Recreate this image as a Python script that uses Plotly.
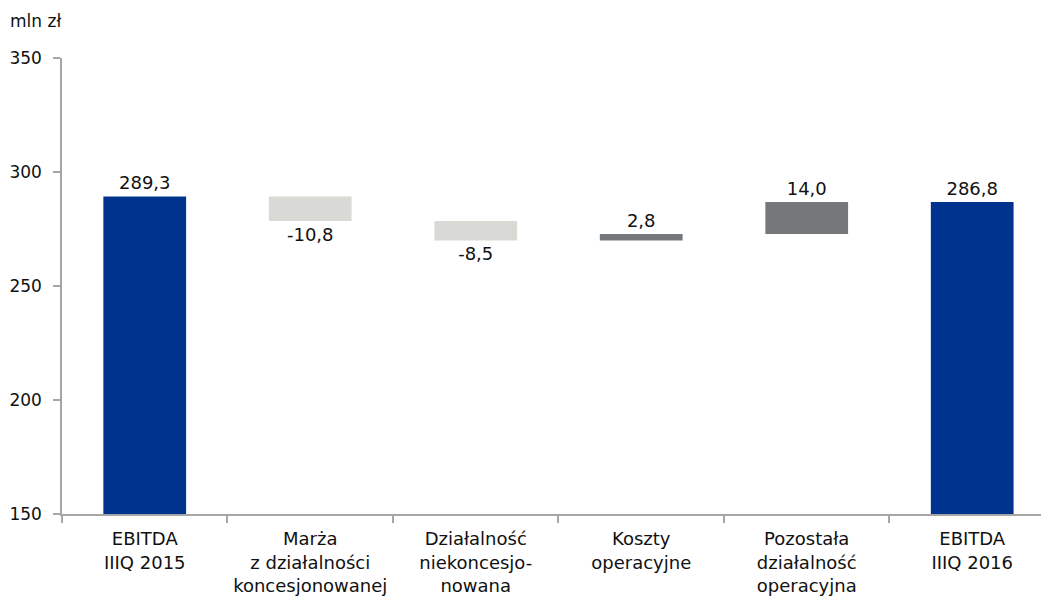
import plotly.graph_objects as go

categories = [
    "EBITDA<br>IIIQ 2015",
    "Marża<br>z działalności<br>koncesjonowanej",
    "Działalność<br>niekoncesjo-<br>nowana",
    "Koszty<br>operacyjne",
    "Pozostała<br>działalność<br>operacyjna",
    "EBITDA<br>IIIQ 2016",
]
values = [289.3, -10.8, -8.5, 2.8, 14.0, 286.8]
measures = ["absolute", "relative", "relative", "relative", "relative", "total"]
labels = ["289,3", "-10,8", "-8,5", "2,8", "14,0", "286,8"]

FONT = "DejaVu Sans"
AXIS = "#A6A6A6"
TXT = "#111111"

fig = go.Figure(go.Waterfall(
    x=categories,
    y=values,
    measure=measures,
    text=labels,
    textposition="outside",
    textfont=dict(family=FONT, size=18, color=TXT),
    width=0.5,
    connector=dict(visible=False),
    increasing=dict(marker=dict(color="#75787B")),
    decreasing=dict(marker=dict(color="#D9D9D6")),
    totals=dict(marker=dict(color="#00338D")),
    cliponaxis=False,
))

fig.update_layout(
    width=1041, height=596,
    margin=dict(l=54, r=0, t=50, b=90),
    plot_bgcolor="white", paper_bgcolor="white",
    showlegend=False,
    font=dict(family=FONT, size=17, color=TXT),
    xaxis=dict(
        range=[-0.5, 5.464], automargin=False,
        showline=True, linecolor=AXIS, linewidth=1.5,
        ticks="outside", tickson="boundaries", ticklen=7, tickcolor=AXIS, tickwidth=1.5,
        showgrid=False, tickfont=dict(size=18), ticklabelstandoff=8,
    ),
    yaxis=dict(
        range=[150, 350], tickvals=[150, 200, 250, 300, 350], automargin=False,
        showline=True, linecolor=AXIS, linewidth=1.5,
        ticks="outside", ticklen=7, tickcolor=AXIS, tickwidth=1.5,
        showgrid=False, zeroline=False, tickfont=dict(size=17), ticklabelstandoff=8,
    ),
    annotations=[dict(
        text="mln zł", x=0, xref="paper", xanchor="left", xshift=-54,
        y=1, yref="paper", yanchor="bottom", yshift=25, showarrow=False,
        font=dict(family=FONT, size=17, color=TXT),
    )],
)

fig.write_html("out.html")
